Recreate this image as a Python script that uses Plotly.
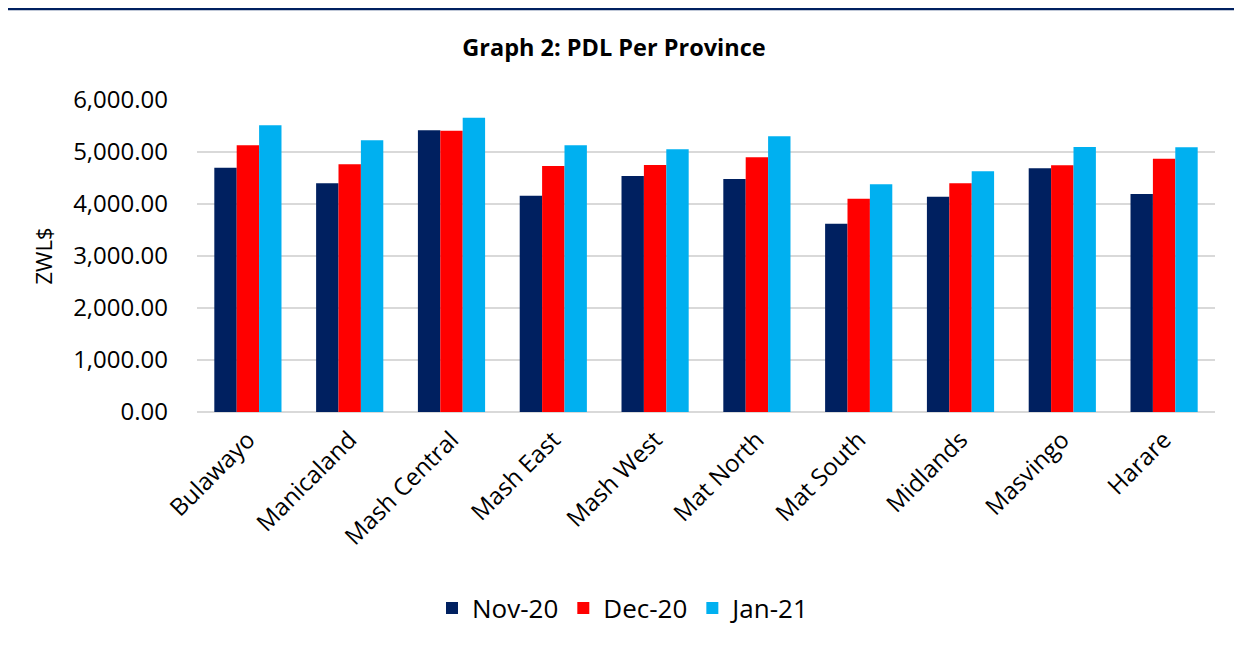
import plotly.graph_objects as go

provinces = ["Bulawayo", "Manicaland", "Mash Central", "Mash East", "Mash West",
             "Mat North", "Mat South", "Midlands", "Masvingo", "Harare"]
series_names = ["Nov-20", "Dec-20", "Jan-21"]
nov20 = [4698, 4397, 5417, 4160, 4538, 4481, 3622, 4141, 4686, 4192]
dec20 = [5128, 4763, 5410, 4731, 4750, 4897, 4103, 4397, 4743, 4872]
jan21 = [5513, 5224, 5660, 5128, 5051, 5301, 4378, 4628, 5096, 5090]
colors = ["#002060", "#FF0000", "#00B0F0"]
y_ticks = [0, 1000, 2000, 3000, 4000, 5000, 6000]

FONT = "Open Sans"

fig = go.Figure()
for name, vals, col in zip(series_names, [nov20, dec20, jan21], colors):
    fig.add_trace(go.Bar(x=provinces, y=vals, name=name,
                         marker=dict(color=col, line=dict(width=0))))

# page body has an 8px margin; compensate so the plot lands where the reference has it
W, H = 1234, 642
L, R, T, B = 189, 27, 92, 238
ph = H - T - B
pw = W - L - R

fig.update_layout(
    width=W, height=H,
    margin=dict(l=L, r=R, t=T, b=B, autoexpand=False),
    paper_bgcolor="white", plot_bgcolor="white",
    barmode="group", bargap=0.34, bargroupgap=0,
    font=dict(family=FONT, size=24, color="#000000"),
    title=dict(text="<b>Graph 2: PDL Per Province</b>", x=(614 - 8) / W, xref="container",
               xanchor="center", y=1 - 40 / H, yanchor="middle", yref="container",
               font=dict(family=FONT, size=23.5, color="#000000")),
    xaxis=dict(tickangle=-45, showgrid=False, showline=False, ticks="",
               tickfont=dict(family=FONT, size=24), ticklabelstandoff=8),
    yaxis=dict(range=[0, 6000], tickvals=y_ticks, tickformat=",.2f",
               showgrid=True, gridcolor="#D9D9D9", gridwidth=1.5,
               zeroline=True, zerolinecolor="#D9D9D9", zerolinewidth=1.5,
               ticks="", tickfont=dict(family=FONT, size=24), ticklabelstandoff=28,
               title=dict(text="ZWL$", font=dict(family=FONT, size=22), standoff=14)),
    legend=dict(orientation="h", x=(624 - 8 - L) / pw, xanchor="center", xref="paper",
                y=(ph - (600 - T)) / ph, yanchor="middle",
                font=dict(family=FONT, size=26), traceorder="normal",
                itemwidth=30),
    showlegend=True,
)

fig.add_shape(type="line", xref="paper", yref="paper",
              x0=-L / pw, x1=(W - L) / pw,
              y0=(ph + T - 1) / ph, y1=(ph + T - 1) / ph,
              line=dict(color="#002060", width=2.5))

fig.write_html("out.html")
